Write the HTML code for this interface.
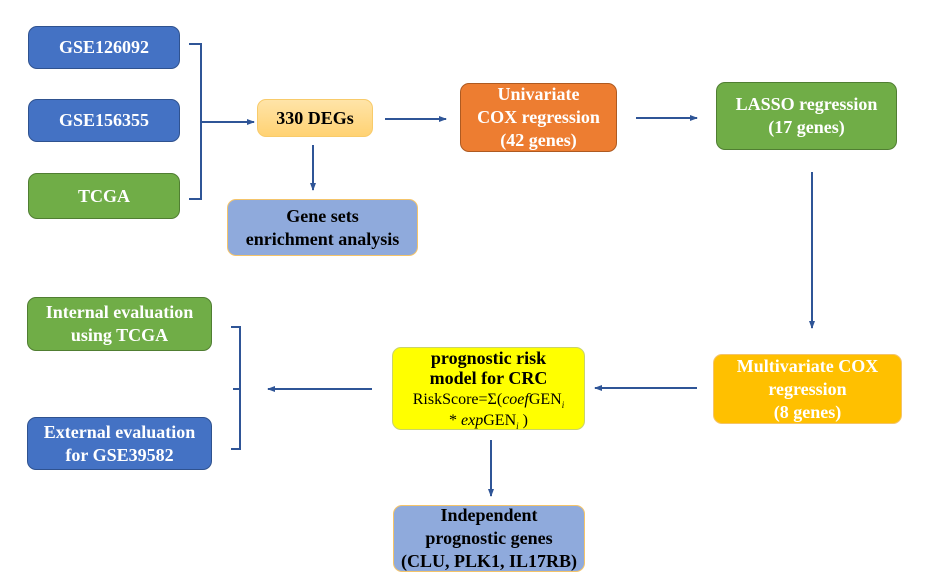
<!DOCTYPE html>
<html><head><style>
body{margin:0;width:936px;height:588px;background:#fff;position:relative;overflow:hidden;font-family:"Liberation Serif",serif;font-weight:bold}
.b{position:absolute;box-sizing:border-box;border-radius:9px;display:flex;align-items:center;justify-content:center;text-align:center;line-height:23px;font-size:18px}
.bl{background:#4472C4;border:1.5px solid #2F528F;color:#fff}
.gr{background:#70AD47;border:1.5px solid #507E32;color:#fff}
.lb{background:#8FAADC;border:1.5px solid #F4C46A;color:#000}
svg{position:absolute;left:0;top:0}
.s{font-size:9px;position:relative;top:4px;line-height:0}
</style></head><body>
<div class="b bl" style="left:28px;top:26px;width:152px;height:43px">GSE126092</div>
<div class="b bl" style="left:28px;top:99px;width:152px;height:43px">GSE156355</div>
<div class="b gr" style="left:28px;top:173px;width:152px;height:46px">TCGA</div>
<div class="b" style="left:257px;top:99px;width:116px;height:38px;background:linear-gradient(#FFE4A8,#FFD273);border:1.5px solid #F8CB6A">330 DEGs</div>
<div class="b lb" style="left:227px;top:199px;width:191px;height:57px">Gene sets<br>enrichment analysis</div>
<div class="b" style="left:460px;top:83px;width:157px;height:69px;background:#ED7D31;border:1.5px solid #AE5A21;color:#fff">Univariate<br>COX regression<br>(42 genes)</div>
<div class="b gr" style="left:716px;top:82px;width:181px;height:68px">LASSO regression<br>(17 genes)</div>
<div class="b" style="left:713px;top:354px;width:189px;height:70px;background:#FFC000;border:1.5px solid #F4C46A;color:#fff">Multivariate COX<br>regression<br>(8 genes)</div>
<div class="b" style="left:392px;top:347px;width:193px;height:83px;background:#FFFF00;border:1.5px solid #C9D36A;color:#000;line-height:20px"><div>prognostic risk<br>model for CRC<br><span style="font-weight:normal;font-size:16px;line-height:19px">RiskScore=Σ(<i>coef</i>GEN<i class="s">i</i><br>* <i>exp</i>GEN<i class="s">i</i> )</span></div></div>
<div class="b gr" style="left:27px;top:297px;width:185px;height:54px">Internal evaluation<br>using TCGA</div>
<div class="b bl" style="left:27px;top:417px;width:185px;height:53px">External evaluation<br>for GSE39582</div>
<div class="b lb" style="left:393px;top:505px;width:192px;height:67px">Independent<br>prognostic genes<br>(CLU, PLK1, IL17RB)</div>
<svg width="936" height="588">
<defs><marker id="a" markerUnits="userSpaceOnUse" markerWidth="8" markerHeight="8" refX="7" refY="4" orient="auto"><path d="M0,1L8,4L0,7z" fill="#2F5597"/></marker></defs>
<g stroke="#2F5597" stroke-width="2" fill="none">
<path d="M189,44H201V199H189M201,122H254" marker-end="url(#a)"/>
<path d="M385,119H446" marker-end="url(#a)"/>
<path d="M313,145V190" marker-end="url(#a)"/>
<path d="M636,118H697" marker-end="url(#a)"/>
<path d="M812,172V328" marker-end="url(#a)"/>
<path d="M697,388H595" marker-end="url(#a)"/>
<path d="M372,389H268" marker-end="url(#a)"/>
<path d="M231,327H240V449H231M240,389H233"/>
<path d="M491,440V496" marker-end="url(#a)"/>
</g></svg>
</body></html>
